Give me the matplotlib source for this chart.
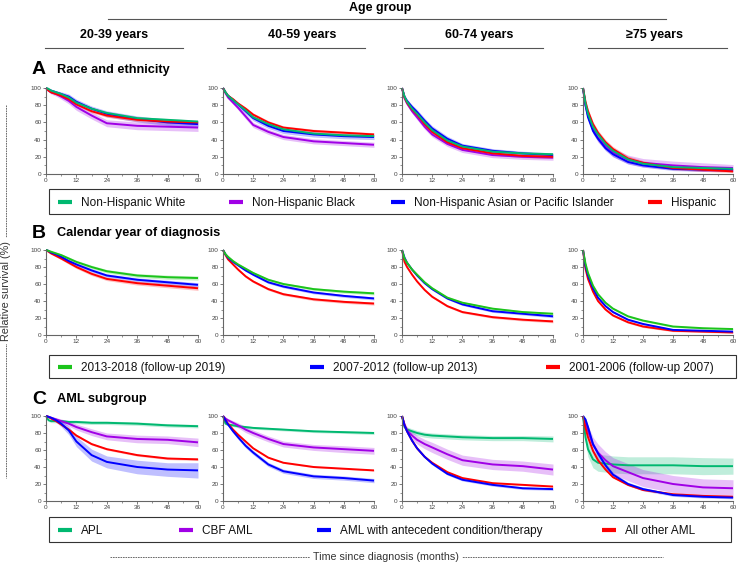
import matplotlib
matplotlib.use("Agg")
import matplotlib.pyplot as plt
from matplotlib.lines import Line2D
from matplotlib.patches import Rectangle
from matplotlib.ticker import MultipleLocator
import numpy as np

plt.rcParams['font.family'] = ['Liberation Sans', 'DejaVu Sans']

W, H = 740, 564

# ---------------- data (relative survival, %) ----------------
months = [0, 1, 2, 4, 6, 9, 12, 18, 24, 36, 48, 60]
age_groups = ["20-39 years", "40-59 years", "60-74 years", "≥75 years"]

# A: race and ethnicity (one row per age group)
race_labels = ["Non-Hispanic White", "Non-Hispanic Black",
               "Non-Hispanic Asian or Pacific Islander", "Hispanic"]
race_white = [[100, 99, 97, 95, 93, 89, 83, 76, 71, 65, 63, 61],
              [100, 95, 91, 86, 81, 74, 66, 58, 52, 47, 45, 44],
              [100, 90, 84, 76, 70, 60, 51, 39, 32, 26, 24, 23],
              [100, 82, 70, 55, 46, 35, 27, 17, 12, 8, 7, 6]]
race_black = [[100, 97, 95, 93, 90, 85, 78, 68, 59, 56, 55, 54],
              [100, 94, 89, 83, 77, 67, 57, 49, 43, 38, 36, 34],
              [100, 88, 82, 73, 66, 55, 46, 35, 28, 22, 20, 19],
              [100, 80, 68, 52, 42, 33, 25, 17, 13, 10, 8, 7]]
race_asian = [[100, 98, 97, 95, 93, 90, 84, 76, 70, 64, 60, 58],
              [100, 95, 91, 86, 81, 73, 65, 56, 50, 46, 44, 43],
              [100, 90, 85, 78, 72, 62, 53, 41, 33, 27, 24, 22],
              [100, 80, 66, 50, 41, 30, 23, 14, 10, 6, 5, 5]]
race_hisp = [[100, 97, 95, 93, 91, 87, 81, 73, 68, 63, 61, 60],
             [100, 95, 91, 87, 82, 76, 69, 60, 54, 50, 48, 46],
             [100, 89, 83, 75, 69, 58, 49, 37, 30, 24, 21, 20],
             [100, 84, 73, 58, 48, 37, 29, 18, 13, 7, 5, 3]]
# 95% CI half-widths
race_white_ci = [[0, 0.4, 0.5, 0.7, 0.8, 1, 1, 1.2, 1.3, 1.4, 1.5, 1.5],
                 [0, 0.3, 0.4, 0.5, 0.6, 0.7, 0.8, 0.9, 1, 1, 1, 1],
                 [0, 0.3, 0.4, 0.5, 0.6, 0.7, 0.8, 0.8, 0.8, 0.8, 0.8, 0.8],
                 [0, 0.5, 0.6, 0.7, 0.8, 0.8, 0.8, 0.8, 0.8, 0.8, 0.8, 0.8]]
race_black_ci = [[0, 1.5, 2, 2.5, 3, 3.5, 4, 4, 4, 4.5, 4.5, 4.5],
                 [0, 1, 1.5, 2, 2.5, 3, 3, 3, 3, 3, 3, 3],
                 [0, 1.5, 2, 2.5, 3, 3, 3, 3, 3, 3, 3, 3],
                 [0, 3, 4, 5, 5, 5, 5, 5, 5, 5, 5, 4]]
race_asian_ci = [[0, 1, 1.5, 2, 2.5, 3, 3, 3, 3.5, 3.5, 3.5, 3.5],
                 [0, 1, 1.5, 2, 2.5, 3, 3, 3, 3, 3, 3, 3],
                 [0, 1.5, 2, 2.5, 3, 3, 3, 3, 2.5, 2.5, 2.5, 2.5],
                 [0, 2, 3, 3, 3, 3, 3, 2.5, 2, 2, 2, 2]]
race_hisp_ci = [[0, 0.8, 1, 1.2, 1.5, 1.5, 1.5, 1.8, 2, 2, 2, 2],
                [0, 0.8, 1, 1.2, 1.5, 1.8, 2, 2, 2, 2, 2, 2],
                [0, 1, 1.5, 2, 2, 2, 2, 2, 2, 2, 2, 2],
                [0, 2, 3, 3, 3, 3, 3, 3, 2.5, 2, 2, 1.5]]

# B: calendar year of diagnosis
year_labels = ["2013-2018 (follow-up 2019)", "2007-2012 (follow-up 2013)",
               "2001-2006 (follow-up 2007)"]
year_2013 = [[100, 99, 98, 96, 94, 90, 86, 80, 75, 70, 68, 67],
             [100, 95, 92, 87, 83, 78, 73, 65, 60, 54, 51, 49],
             [100, 90, 85, 77, 71, 62, 55, 44, 38, 31, 27, 25],
             [100, 84, 73, 58, 48, 38, 31, 22, 17, 10, 8, 7]]
year_2007 = [[100, 99, 97, 95, 92, 87, 83, 76, 70, 65, 62, 59],
             [100, 95, 91, 86, 82, 76, 71, 62, 57, 50, 46, 43],
             [100, 91, 85, 77, 70, 61, 54, 43, 36, 28, 25, 22],
             [100, 81, 70, 55, 44, 34, 27, 18, 13, 6, 5, 4]]
year_2001 = [[100, 98, 96, 93, 90, 85, 80, 72, 66, 61, 58, 55],
             [100, 94, 89, 83, 77, 69, 63, 54, 48, 42, 39, 37],
             [100, 86, 80, 71, 63, 53, 45, 34, 27, 21, 18, 16],
             [100, 78, 66, 51, 40, 30, 23, 15, 10, 5, 4, 3]]
year_2013_ci = [[0, 0.8, 1, 1.2, 1.5, 1.7, 1.8, 2, 2, 2.2, 2.4, 2.5],
                [0, 0.6, 0.8, 1, 1.2, 1.3, 1.4, 1.5, 1.5, 1.6, 1.7, 1.8],
                [0, 0.6, 0.8, 1, 1.1, 1.2, 1.3, 1.3, 1.3, 1.4, 1.5, 1.6],
                [0, 0.8, 1, 1.2, 1.3, 1.3, 1.3, 1.2, 1.2, 1.1, 1.1, 1.1]]
year_2007_ci = [[0, 0.8, 1, 1.2, 1.5, 1.7, 1.8, 2, 2, 2.2, 2.4, 2.5],
                [0, 0.6, 0.8, 1, 1.2, 1.3, 1.4, 1.5, 1.5, 1.6, 1.7, 1.8],
                [0, 0.6, 0.8, 1, 1.1, 1.2, 1.3, 1.3, 1.3, 1.4, 1.5, 1.6],
                [0, 0.8, 1, 1.2, 1.3, 1.3, 1.3, 1.2, 1.2, 1.1, 1.1, 1.1]]
year_2001_ci = [[0, 0.8, 1, 1.2, 1.5, 1.7, 1.8, 2, 2, 2.2, 2.4, 2.5],
                [0, 0.6, 0.8, 1, 1.2, 1.3, 1.4, 1.5, 1.5, 1.6, 1.7, 1.8],
                [0, 0.6, 0.8, 1, 1.1, 1.2, 1.3, 1.3, 1.3, 1.4, 1.5, 1.6],
                [0, 0.8, 1, 1.2, 1.3, 1.3, 1.3, 1.2, 1.2, 1.1, 1.1, 1.1]]

# C: AML subgroup
aml_labels = ["APL", "CBF AML", "AML with antecedent condition/therapy",
              "All other AML"]
aml_apl = [[100, 95, 94, 94, 94, 93, 93, 92, 92, 91, 89, 88],
           [100, 91, 90, 89, 88, 87, 86, 85, 84, 82, 81, 80],
           [100, 87, 84, 82, 80, 78, 77, 76, 75, 74, 74, 73],
           [100, 75, 61, 49, 45, 44, 43, 42, 42, 42, 41, 41]]
aml_cbf = [[100, 99, 98, 96, 94, 91, 87, 81, 76, 73, 72, 69],
           [100, 97, 95, 92, 89, 84, 80, 73, 67, 63, 61, 59],
           [100, 90, 83, 77, 72, 67, 63, 55, 48, 43, 41, 37],
           [100, 92, 82, 66, 57, 48, 41, 34, 27, 20, 16, 15]]
aml_ante = [[100, 99, 98, 95, 91, 83, 70, 54, 46, 40, 37, 36],
            [100, 95, 90, 82, 75, 65, 57, 43, 35, 29, 27, 24],
            [100, 89, 82, 71, 62, 52, 44, 32, 25, 19, 15, 14],
            [100, 96, 87, 67, 56, 42, 31, 20, 14, 7, 5, 4]]
aml_other = [[100, 99, 97, 94, 90, 84, 77, 67, 61, 54, 50, 49],
             [100, 95, 91, 84, 78, 70, 62, 51, 45, 40, 38, 36],
             [100, 89, 82, 71, 62, 52, 45, 34, 27, 21, 19, 17],
             [100, 86, 75, 59, 48, 37, 28, 19, 13, 8, 6, 5]]
aml_apl_ci = [[0, 1.5, 1.8, 2, 2, 2, 2, 2, 2, 2, 2, 2],
              [0, 1.5, 1.5, 1.5, 1.5, 1.5, 1.5, 1.5, 1.5, 1.5, 1.5, 1.8],
              [0, 2.5, 3, 3, 3, 3, 3, 3, 3, 3, 3, 3.5],
              [0, 7, 9, 10, 10, 10, 10, 10, 10, 10, 10, 9.5]]
aml_cbf_ci = [[0, 0.8, 1.5, 2, 2.5, 3, 3.5, 4, 4, 4.5, 4.5, 5],
              [0, 1.5, 2, 2.5, 3, 3.5, 3.5, 3.5, 3.5, 3.5, 4, 4],
              [0, 3, 4, 5, 5, 5.5, 6, 6, 6, 6, 6, 6.5],
              [0, 5, 7, 9, 10, 10, 10, 10, 10, 10, 10, 10]]
aml_ante_ci = [[0, 0.8, 1.5, 2.5, 3.5, 5, 6, 7, 7, 8, 8, 9],
               [0, 1, 1.5, 2, 2.5, 2.5, 2.5, 2.5, 2.5, 2.5, 2.5, 2.5],
               [0, 1, 1.2, 1.5, 1.5, 1.5, 1.5, 1.5, 1.5, 1.5, 1.5, 1.5],
               [0, 1.5, 2, 2.5, 2.5, 2.5, 2.5, 2, 2, 1.5, 1.5, 1.5]]
aml_other_ci = [[0, 0.5, 0.8, 1, 1, 1.2, 1.2, 1.2, 1.2, 1.2, 1.3, 1.4],
                [0, 0.4, 0.5, 0.6, 0.7, 0.8, 0.8, 0.8, 0.8, 0.8, 0.8, 0.8],
                [0, 0.4, 0.5, 0.6, 0.7, 0.8, 0.8, 0.8, 0.8, 0.8, 0.8, 0.8],
                [0, 0.8, 1, 1, 1, 1, 1, 1, 0.8, 0.8, 0.8, 0.8]]

GREEN = "#00b870"
PURPLE = "#a000e6"
BLUE = "#0000ff"
RED = "#ff0000"
GREEN_B = "#1cc41c"

# ---------------- layout (pixels) ----------------
col_x = [(46, 198), (223, 374), (402, 553), (583, 733)]
row_y = [(88, 174), (250, 335), (416, 501)]


def fx(px):
    return px / W


def fy(py):
    return 1 - py / H


def fig_line(fig, x0, y0, x1, y1, **kw):
    fig.add_artist(Line2D([fx(x0), fx(x1)], [fy(y0), fy(y1)],
                          transform=fig.transFigure, **kw))


def draw_legend(fig, box, handle_x, labels, colors):
    x0, y0, x1, y1 = box
    fig.add_artist(Rectangle((fx(x0), fy(y1)), (x1 - x0) / W, (y1 - y0) / H,
                             transform=fig.transFigure, fill=False,
                             edgecolor="#333333", lw=0.8))
    yc = (y0 + y1) / 2
    for hx, lab, col in zip(handle_x, labels, colors):
        fig_line(fig, hx, yc, hx + 14, yc, color=col, lw=3,
                 solid_capstyle="butt")
        fig.text(fx(hx + 23), fy(yc), lab, fontsize=8.5, ha="left",
                 va="center_baseline", color="#111111")


fig = plt.figure(figsize=(W / 100, H / 100), dpi=100)

rows = [
    dict(series=[race_white, race_black, race_asian, race_hisp],
         ci=[race_white_ci, race_black_ci, race_asian_ci, race_hisp_ci],
         colors=[GREEN, PURPLE, BLUE, RED], labels=race_labels,
         draw_order=[1, 2, 3, 0], letter="A", title="Race and ethnicity",
         title_y=70, legend_box=(49, 189, 729, 214),
         handle_x=[58, 229, 391, 648]),
    dict(series=[year_2013, year_2007, year_2001],
         ci=[year_2013_ci, year_2007_ci, year_2001_ci],
         colors=[GREEN_B, BLUE, RED], labels=year_labels,
         draw_order=[2, 1, 0], letter="B", title="Calendar year of diagnosis",
         title_y=233, legend_box=(49, 355, 736, 378),
         handle_x=[58, 310, 546]),
    dict(series=[aml_apl, aml_cbf, aml_ante, aml_other],
         ci=[aml_apl_ci, aml_cbf_ci, aml_ante_ci, aml_other_ci],
         colors=[GREEN, PURPLE, BLUE, RED], labels=aml_labels,
         draw_order=[0, 1, 3, 2], letter="C", title="AML subgroup",
         title_y=399, legend_box=(49, 517, 731, 542),
         handle_x=[58, 179, 317, 602]),
]

t = np.array(months)
for r, row in enumerate(rows):
    y0, y1 = row_y[r]
    for c in range(4):
        x0, x1 = col_x[c]
        ax = fig.add_axes([fx(x0), fy(y1), (x1 - x0) / W, (y1 - y0) / H])
        for k in row["draw_order"]:
            v = np.array(row["series"][k][c], dtype=float)
            e = np.array(row["ci"][k][c], dtype=float)
            ax.fill_between(t, np.clip(v - e, 0, 100), np.clip(v + e, 0, 100),
                            color=row["colors"][k], alpha=0.25, lw=0)
        for k in row["draw_order"]:
            ax.plot(t, row["series"][k][c], color=row["colors"][k], lw=1.4,
                    solid_capstyle="butt", clip_on=False)
        ax.set_xlim(0, 60)
        ax.set_ylim(0, 100)
        ax.xaxis.set_major_locator(MultipleLocator(12))
        ax.xaxis.set_minor_locator(MultipleLocator(6))
        ax.yaxis.set_major_locator(MultipleLocator(20))
        ax.yaxis.set_minor_locator(MultipleLocator(10))
        for s in ["top", "right"]:
            ax.spines[s].set_visible(False)
        for s in ["left", "bottom"]:
            ax.spines[s].set_color("#666666")
            ax.spines[s].set_linewidth(0.8)
        ax.tick_params(which="major", length=2.2, width=0.6, color="#666666",
                       labelsize=4.6, labelcolor="#444444", pad=1)
        ax.tick_params(which="minor", length=1.3, width=0.5, color="#666666")

    # section heading
    fig.text(fx(32), fy(row["title_y"]), row["letter"], fontsize=14,
             fontweight="bold", va="center", ha="left")
    fig.text(fx(57), fy(row["title_y"]), row["title"], fontsize=9.2,
             fontweight="bold", va="center", ha="left")

    draw_legend(fig, row["legend_box"], row["handle_x"], row["labels"],
                row["colors"])

# age group header
fig.text(fx(380), fy(8), "Age group", fontsize=9, fontweight="bold",
         ha="center", va="center")
fig_line(fig, 108, 19, 666, 19, color="#555555", lw=0.8)
age_centers = [114, 302, 479, 654]
age_lines = [(45, 183), (227, 365), (404, 543), (588, 727)]
for name, cx, (a, b) in zip(age_groups, age_centers, age_lines):
    fig.text(fx(cx), fy(35), name, fontsize=9, fontweight="bold",
             ha="center", va="center")
    fig_line(fig, a, 48, b, 48, color="#555555", lw=0.8)

# axis labels with dashed rules
fig_line(fig, 6, 105, 6, 478, color="#555555", lw=0.6, ls=(0, (2, 1)))
fig.text(fx(6), fy(291), "Relative survival (%)", rotation=90, fontsize=7.8,
         ha="center", va="center", color="#333333",
         bbox=dict(facecolor="white", edgecolor="none", pad=2))
fig_line(fig, 110, 557, 663, 557, color="#555555", lw=0.6, ls=(0, (2, 1)))
fig.text(fx(386), fy(557), "Time since diagnosis (months)", fontsize=7.7,
         ha="center", va="center", color="#333333",
         bbox=dict(facecolor="white", edgecolor="none", pad=2))

fig.savefig("out.png", dpi=100)
